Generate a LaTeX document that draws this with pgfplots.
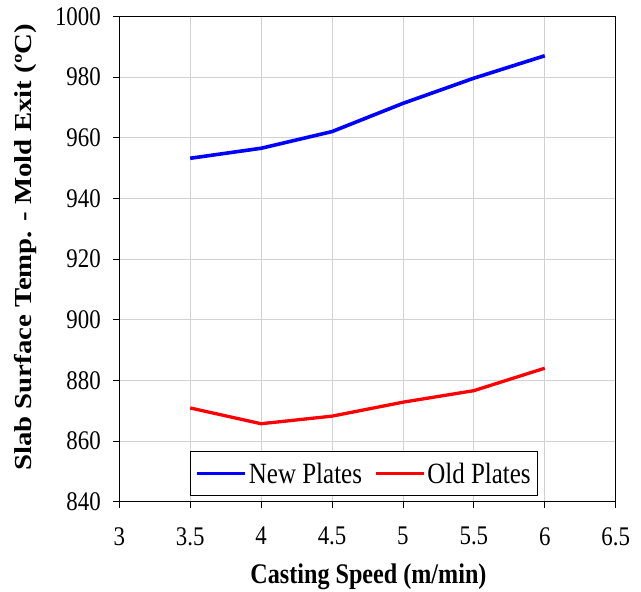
\documentclass[border=0pt]{standalone}
\usepackage{fontspec}
\setmainfont{Liberation Serif}
\newfontfamily\tallfont[FakeStretch=0.85]{Liberation Serif}
\newfontfamily\widefont[FakeStretch=1.18]{Liberation Serif}
\usepackage{pgfplots}
\pgfplotsset{compat=1.18}
\begin{document}
\begin{tikzpicture}[font=\tallfont\fontsize{27}{30}\selectfont]
\useasboundingbox (-119.3bp,-90.3bp) rectangle (521.7bp,501.7bp);
\begin{axis}[
  at={(0,0)}, anchor=south west,
  scale only axis, width=496.4bp, height=485.4bp,
  xmin=3, xmax=6.5, ymin=840, ymax=1000,
  xtick={3,3.5,4,4.5,5,5.5,6,6.5},
  ytick={840,860,880,900,920,940,960,980,1000},
  /pgf/number format/assume math mode=true,
  /pgf/number format/1000 sep={},
  grid=major,
  grid style={gray!35, line width=0.8bp},
  axis line style={black, line width=0.9bp},
  tick align=outside,
  major tick length=6bp,
  tick style={black, line width=0.9bp},
  xtick pos=bottom, ytick pos=left,
  ticklabel style={font=\tallfont\fontsize{27}{30}\selectfont},
  xticklabel style={yshift=-16bp},
  yticklabel style={xshift=-9bp},
  xlabel={\textbf{Casting Speed (m/min)}},
  ylabel={\textbf{Slab Surface Temp. - Mold Exit (ºC)}},
  xlabel style={at={(axis description cs:0.502,-0.155)}, anchor=center, font=\tallfont\fontsize{28.5}{32}\selectfont},
  ylabel style={at={(axis description cs:-0.188,0.524)}, anchor=center, font=\widefont\fontsize{24.5}{28}\selectfont},
  legend columns=2,
  legend style={at={(axis description cs:0.493,0.0117)}, anchor=south,
    draw=black, line width=0.8bp, fill=white, font=\tallfont\fontsize{29.5}{32}\selectfont,
    inner xsep=5bp, inner ysep=9bp,
    /tikz/every even column/.append style={column sep=10bp}},
  legend image code/.code={\draw[#1] (0bp,0bp) -- (48bp,0bp);},
]
\addplot[blue, line width=3.6bp] coordinates {
  (3.5,953.2) (4,956.5) (4.5,962.0) (5,971.3) (5.5,979.6) (6,987.0)
};
\addlegendentry{New Plates}
\addplot[red, line width=3.3bp] coordinates {
  (3.5,870.9) (4,865.7) (4.5,868.2) (5,872.8) (5.5,876.6) (6,884.0)
};
\addlegendentry{Old Plates}
\end{axis}
\end{tikzpicture}
\end{document}
